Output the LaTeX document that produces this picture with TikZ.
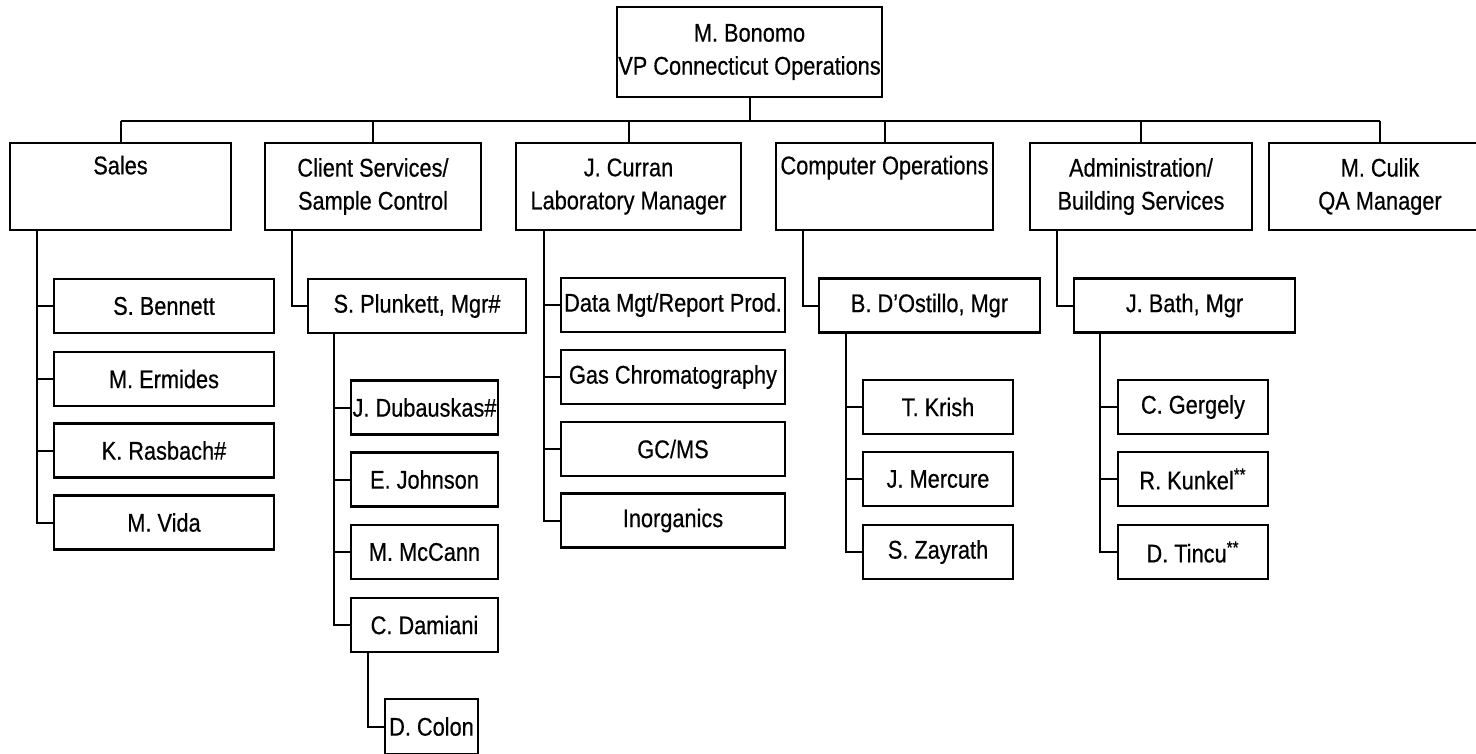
\documentclass[tikz,border=0pt]{standalone}
\usepackage{fontspec}
\setmainfont[FakeStretch=0.85, FakeBold=0.5]{Liberation Sans}
\usepackage{tikz}
\usetikzlibrary{positioning, calc}
\newcommand{\orgfont}{\fontsize{12.8}{16.5}\selectfont}
\tikzset{
  unitbox/.style={draw, line width=1.3pt, inner sep=0pt, outer sep=0pt,
                  align=center, font=\orgfont, minimum height=27pt},
  deptbox/.style={unitbox, minimum height=43.5pt},
  link/.style={line width=1pt}
}

\begin{document}
\begin{tikzpicture}[x=0.5pt, y=-0.5pt]
  \useasboundingbox (0,0) rectangle (1476,754);

  \node[unitbox, minimum width=132.5pt, minimum height=45pt] (vp) at (749.5,52)
    {M. Bonomo\\VP Connecticut Operations};

  \node[deptbox, minimum width=110.5pt] (sales)   at (120.5,186.5) {Sales\\\strut};
  \node[deptbox, minimum width=108pt]   (client)  at (373,186.5)   {Client Services/\\Sample Control};
  \node[deptbox, minimum width=112.5pt] (curran)  at (628.5,186.5) {J. Curran\\Laboratory Manager};
  \node[deptbox, minimum width=108.5pt] (compops) at (884.5,186.5) {Computer Operations\\\strut};
  \node[deptbox, minimum width=111pt]   (admin)   at (1141,186.5)  {Administration/\\Building Services};
  \node[deptbox, minimum width=111pt]   (culik)   at (1380,186.5)  {M. Culik\\QA Manager};

  \node[unitbox, minimum width=110pt] (bennett) at (164,306)   {S. Bennett};
  \node[unitbox, minimum width=110pt] (ermides) at (164,379)   {M. Ermides};
  \node[unitbox, minimum width=110pt] (rasbach) at (164,450.5) {K. Rasbach\#};
  \node[unitbox, minimum width=110pt] (vida)    at (164,522.5) {M. Vida};

  \node[unitbox, minimum width=109pt]  (plunkett)  at (417,306)   {S. Plunkett, Mgr\#};
  \node[unitbox, minimum width=73.5pt] (dubauskas) at (424.5,407.5) {J. Dubauskas\#};
  \node[unitbox, minimum width=73.5pt] (johnson)   at (424.5,479.5) {E. Johnson};
  \node[unitbox, minimum width=73.5pt] (mccann)    at (424.5,552)   {M. McCann};
  \node[unitbox, minimum width=73.5pt] (damiani)   at (424.5,625)   {C. Damiani};
  \node[unitbox, minimum width=46.5pt, minimum height=27.5pt] (colon) at (431.5,726.5) {D. Colon};

  \node[unitbox, minimum width=112pt] (datamgt) at (673,305)   {Data Mgt/Report Prod.};
  \node[unitbox, minimum width=112pt] (gaschrom) at (673,377)  {Gas Chromatography};
  \node[unitbox, minimum width=112pt] (gcms)    at (673,449)   {GC/MS};
  \node[unitbox, minimum width=112pt] (inorg)   at (673,520.5) {Inorganics};

  \node[unitbox, minimum width=110.5pt] (dostillo) at (929.5,305.5) {B. D'Ostillo, Mgr};
  \node[unitbox, minimum width=75pt]    (krish)    at (938,407)   {T. Krish};
  \node[unitbox, minimum width=75pt]    (mercure)  at (938,479)   {J. Mercure};
  \node[unitbox, minimum width=75pt]    (zayrath)  at (938,552)   {S. Zayrath};

  \node[unitbox, minimum width=110.5pt] (bath)    at (1184.5,305.5) {J. Bath, Mgr};
  \node[unitbox, minimum width=75pt]    (gergely) at (1193,407)  {C. Gergely};
  \node[unitbox, minimum width=75pt]    (kunkel)  at (1193,479)  {R. Kunkel\textsuperscript{**}};
  \node[unitbox, minimum width=75pt]    (tincu)   at (1193,552)  {D. Tincu\textsuperscript{**}};

  \draw[link] (vp.south) -- ++(0,24) coordinate (bus);
  \draw[link] (bus -| sales.north) -- (bus -| culik.north);
  \foreach \d in {sales,client,curran,compops,admin,culik}
    \draw[link] (bus -| \d.north) -- (\d.north);

  \foreach \n in {bennett,ermides,rasbach,vida}
    \draw[link] (sales.south west) ++(27,0) |- (\n.west);
  \draw[link] (client.south west) ++(27,0) |- (plunkett.west);
  \foreach \n in {dubauskas,johnson,mccann,damiani}
    \draw[link] (plunkett.south west) ++(26,0) |- (\n.west);
  \draw[link] (damiani.south west) ++(17,0) |- (colon.west);
  \foreach \n in {datamgt,gaschrom,gcms,inorg}
    \draw[link] (curran.south west) ++(28,0) |- (\n.west);
  \draw[link] (compops.south west) ++(27,0) |- (dostillo.west);
  \foreach \n in {krish,mercure,zayrath}
    \draw[link] (dostillo.south west) ++(27,0) |- (\n.west);
  \draw[link] (admin.south west) ++(27,0) |- (bath.west);
  \foreach \n in {gergely,kunkel,tincu}
    \draw[link] (bath.south west) ++(26,0) |- (\n.west);
\end{tikzpicture}
\end{document}
